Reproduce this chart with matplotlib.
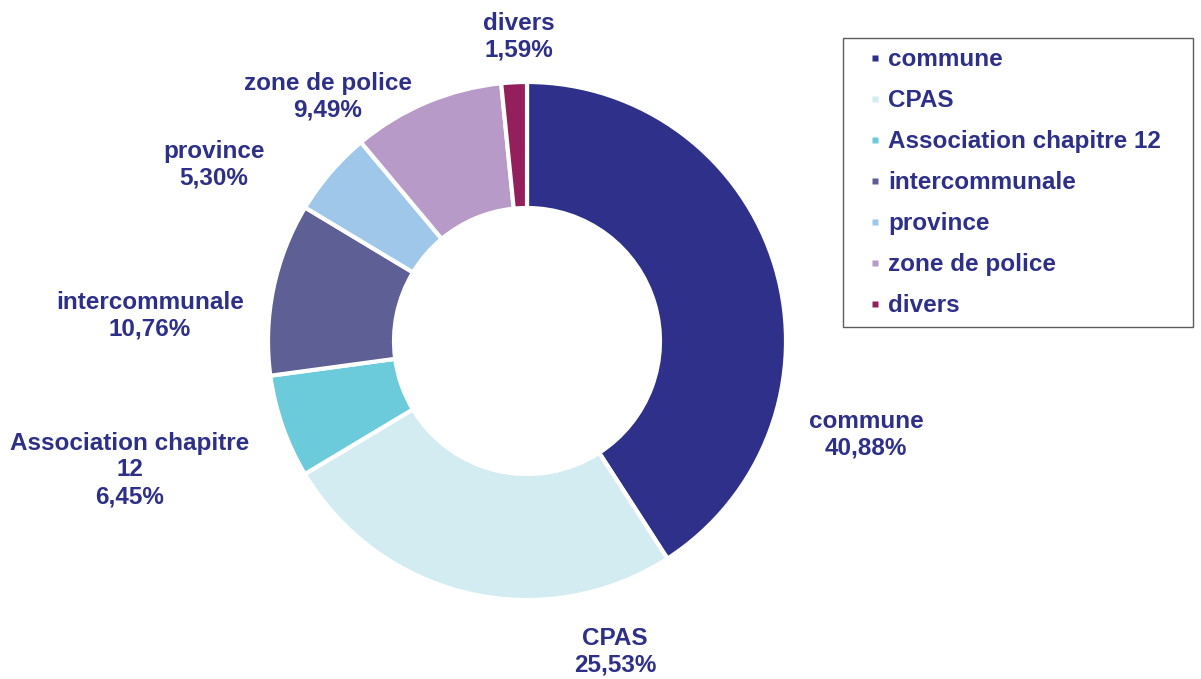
import numpy as np
import matplotlib.pyplot as plt
from matplotlib.lines import Line2D

plt.rcParams['font.family'] = ['Liberation Sans', 'DejaVu Sans']

categories = ['commune', 'CPAS', 'Association chapitre 12', 'intercommunale',
              'province', 'zone de police', 'divers']
label_texts = ['commune', 'CPAS', 'Association chapitre\n12', 'intercommunale',
               'province', 'zone de police', 'divers']
shares = [40.88, 25.53, 6.45, 10.76, 5.30, 9.49, 1.59]
colors = ['#2E3089', '#D2ECF2', '#6BCBDB', '#5E5F94', '#9FC7EA', '#B79AC8', '#941F5D']
text_color = '#2E3087'

# label anchor positions (pixels relative to pie centre)
label_offsets = [(339, -94), (88, -311), (-397, -129), (-377, 25),
                 (-313, 176), (-199, 244), (-8, 304)]

W, H = 1201, 679
fig = plt.figure(figsize=(W / 100, H / 100), dpi=100)
ax = fig.add_axes([0, 0, 1, 1])

cx, cy = 527, H - 341
R = 259
ax.pie(shares, colors=colors, startangle=90, counterclock=False,
       center=(cx, cy), radius=R, frame=True,
       wedgeprops=dict(width=R - 133, edgecolor='white', linewidth=3))
ax.set_xlim(0, W)
ax.set_ylim(0, H)
ax.set_aspect('equal')
ax.axis('off')

for txt, val, (dx, dy) in zip(label_texts, shares, label_offsets):
    s = '{}\n{:.2f}%'.format(txt, val).replace('.', ',')
    ax.text(cx + dx, cy + dy, s, ha='center', va='center', fontsize=17.5,
            fontweight='bold', color=text_color, linespacing=1.2)

handles = [Line2D([], [], linestyle='none', marker='s', markersize=5,
                  markerfacecolor=c, markeredgecolor='none') for c in colors]
leg = ax.legend(handles, categories, loc='upper left', mode='expand',
                bbox_to_anchor=(843 / W, 1 - 38 / H - 0.01, 350 / W, 0.01),
                bbox_transform=fig.transFigure,
                frameon=True, fancybox=False, edgecolor='#333333',
                handlelength=1.81, handletextpad=-0.37,
                labelspacing=0.74, borderpad=0.42, borderaxespad=0,
                prop=dict(size=17.5, weight='bold'))
leg.get_frame().set_linewidth(1.0)
for t in leg.get_texts():
    t.set_color(text_color)

fig.savefig('out.png', dpi=100)
